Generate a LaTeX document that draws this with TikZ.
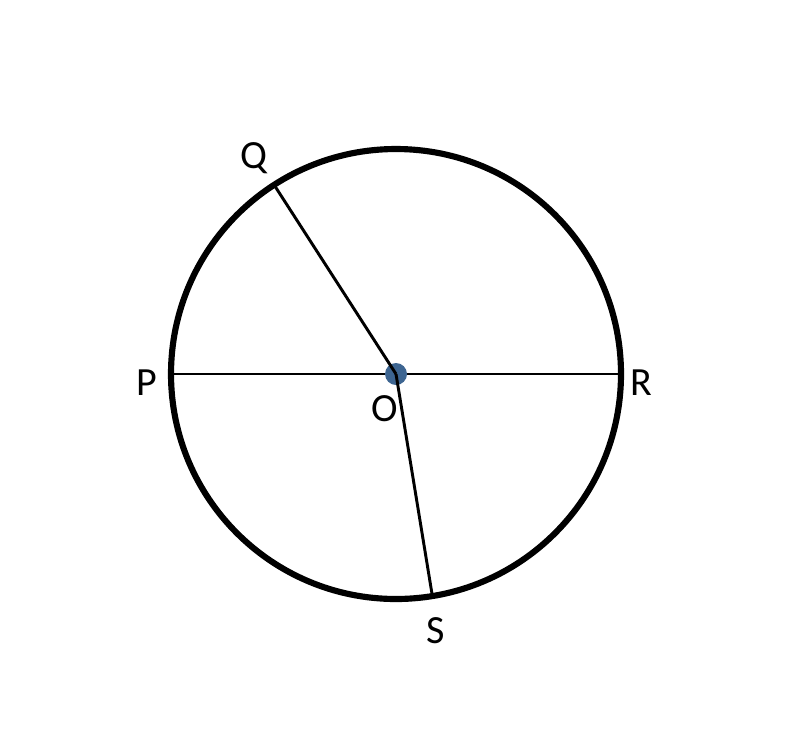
\documentclass[tikz,border=0pt]{standalone}
\usepackage{fontspec}
\setmainfont{Carlito}
\usetikzlibrary{positioning, calc}
\definecolor{dotblue}{RGB}{61,101,145}

\begin{document}
\begin{tikzpicture}[x=0.75pt, y=-0.75pt]
      \tikzstyle{every node}=[font=\fontsize{30}{32}\selectfont, inner sep=0pt]
      \tikzstyle{lbl}=[anchor=base]
      \tikzstyle{radius line}=[line width=2.2pt]
      \useasboundingbox (0,0) rectangle (803,751);
      \coordinate (O) at (396,374);
      \draw [line width=4.6pt] (O) circle [radius=225];
      % y points down here, so angles turn the other way
      \coordinate (P) at ($(O)+(180:225)$);
      \coordinate (R) at ($(O)+(0:225)$);
      \coordinate (Q) at ($(O)+(-122.8:225)$);
      \coordinate (S) at ($(O)+(80.7:225)$);
      \draw [radius line] (P) -- (R);
      \fill [dotblue] (O) circle [radius=11];
      \draw [radius line] (O) -- (Q);
      \draw [radius line] (O) -- (S);
      \node [lbl] (lQ) at (254,168) {Q};
      \node [lbl] (lP) at (147,395) {P};
      \node [lbl] (lR) at (641,395) {R};
      \node [lbl] (lO) at (385,421) {O};
      \node [lbl] (lS) at (436,643) {S};
\end{tikzpicture}
\end{document}
